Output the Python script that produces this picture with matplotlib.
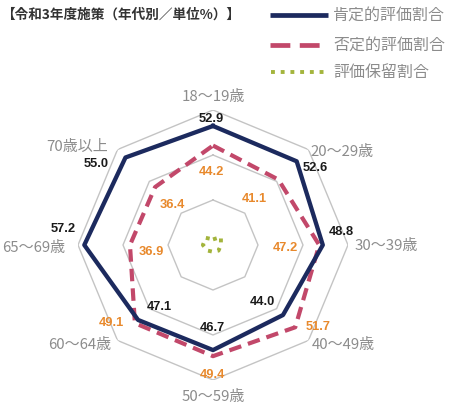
import numpy as np
import matplotlib
matplotlib.use('Agg')
import matplotlib.pyplot as plt

plt.rcParams['font.family'] = ['Noto Sans CJK JP', 'DejaVu Sans']

categories = ['18～19歳', '20～29歳', '30～39歳', '40～49歳',
              '50～59歳', '60～64歳', '65～69歳', '70歳以上']
positive = [52.9, 52.6, 48.8, 44.0, 46.7, 47.1, 57.2, 55.0]
negative = [44.2, 41.1, 47.2, 51.7, 49.4, 49.1, 36.9, 36.4]
pending = [2.5, 5.0, 3.5, 3.5, 3.0, 3.5, 4.5, 4.5]
series_names = ['肯定的評価割合', '否定的評価割合', '評価保留割合']
title = '【令和3年度施策（年代別／単位%）】'
grid_levels = [20, 40, 60]

navy = '#1C2A5E'
pink = '#C2486A'
olive = '#A3B43C'
orange = '#E8892C'

# label offsets in pixels (up positive)
pos_off = [(-2, 7), (19, -7), (19, 13), (-21, 13), (-1, 22), (21, 13), (-21, 16), (-29, -7)]
neg_off = [(-2, -26), (-24, -19), (-34, -3), (23, 0), (-1, -19), (-24, 0), (21, -7), (17, -18)]
cat_off = [(0, 13), (34, -2), (38, -1), (35, -5), (0, -17), (-38, -5), (-44, -3), (-40, 3)]

W, H = 451, 409
fig = plt.figure(figsize=(W / 100, H / 100), dpi=100)

# overlay for title and legend (pixel coords)
ov = fig.add_axes([0, 0, 1, 1])
ov.set_xlim(0, W)
ov.set_ylim(H, 0)
ov.axis('off')
ov.text(1, 15, title, ha='left', va='center', fontsize=9.8, color='#333333',
        fontweight='bold')
ov.plot([270, 328], [15, 15], color=navy, lw=3.4, solid_capstyle='butt')
ov.plot([270, 328], [45, 45], color=pink, lw=3.4, dashes=(4.2, 2.0))
ov.plot([271, 328], [72, 72], color=olive, lw=2.8, dashes=(1, 1.5))
for i, name in enumerate(series_names):
    ov.text(333, [15, 45, 72][i], name, ha='left', va='center', fontsize=11.5,
            color='#8C8C8C')

# radar
cx, cy, R = 213, 245, 135
ax = fig.add_axes([(cx - R) / W, (H - cy - R) / H, 2 * R / W, 2 * R / H],
                  projection='polar')
ax.set_theta_zero_location('N')
ax.set_theta_direction(-1)
ax.set_ylim(0, 60)
ax.axis('off')

n = len(categories)
theta = np.linspace(0, 2 * np.pi, n, endpoint=False)
tc = np.append(theta, theta[0])

for lv in grid_levels:
    ax.plot(tc, [lv] * (n + 1), color='#C4C4C4', lw=1.0, zorder=1)

def closed(v):
    return list(v) + [v[0]]

ax.plot(tc, closed(pending), color=olive, lw=2.8, dashes=(1, 1.5), zorder=2)
ax.plot(tc, closed(negative), color=pink, lw=3.0, dashes=(3.0, 1.7), zorder=3)
ax.plot(tc, closed(positive), color=navy, lw=3.1, zorder=4)

for i in range(n):
    ax.annotate(f'{positive[i]:.1f}', xy=(theta[i], positive[i]), xytext=pos_off[i],
                textcoords='offset pixels', ha='center', va='center',
                fontsize=9.3, fontweight='bold', color='#1A1A1A',
                family='Liberation Sans', zorder=6)
    ax.annotate(f'{negative[i]:.1f}', xy=(theta[i], negative[i]), xytext=neg_off[i],
                textcoords='offset pixels', ha='center', va='center',
                fontsize=9.3, fontweight='bold', color=orange,
                family='Liberation Sans', zorder=6)
    ax.annotate(categories[i], xy=(theta[i], 60), xytext=cat_off[i],
                textcoords='offset pixels', ha='center', va='center',
                fontsize=10.8, color='#8C8C8C', annotation_clip=False, zorder=6)

fig.savefig('out.png', dpi=100)
